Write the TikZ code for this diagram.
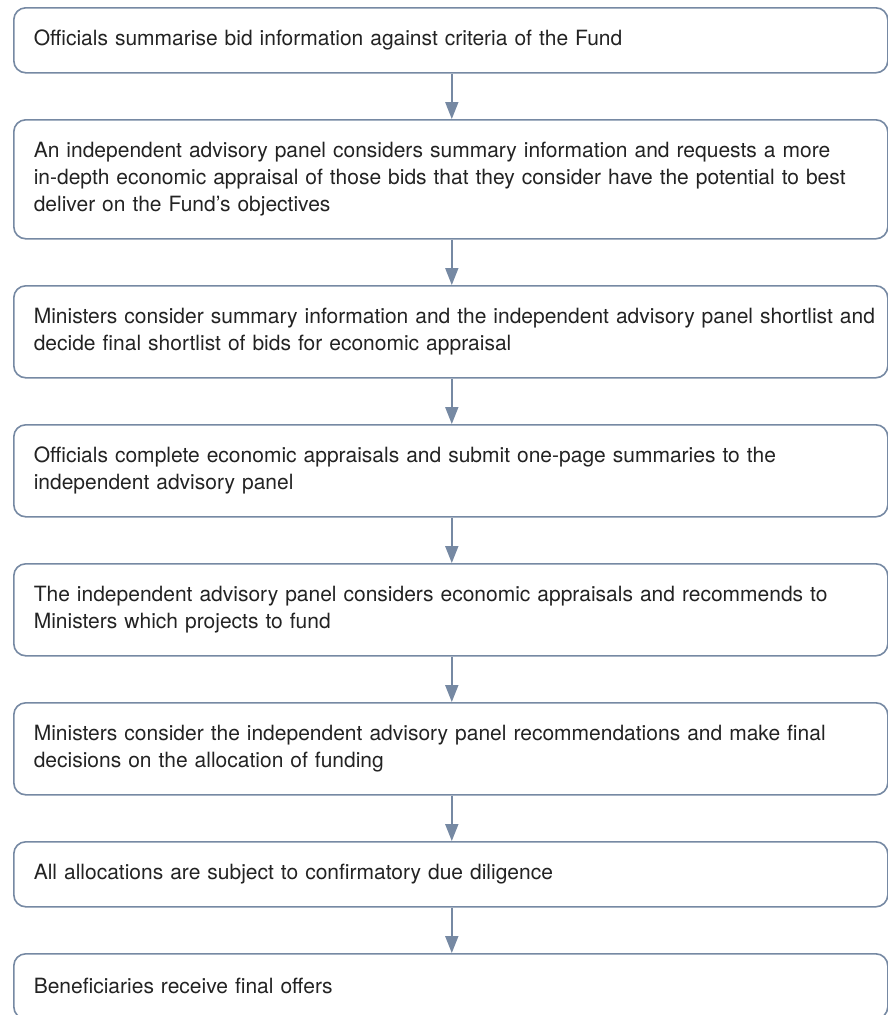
\documentclass[tikz,border=0pt]{standalone}
\usepackage{fontspec}
\setmainfont{TeX Gyre Heros}
\usetikzlibrary{arrows.meta}
\definecolor{edge}{RGB}{118,137,163}
\definecolor{txt}{RGB}{35,35,35}
\tikzset{
  stepbox/.style={draw=edge, line width=1.6pt, rounded corners=12pt, fill=white,
    anchor=north west, minimum width=874pt, text width=834pt, inner xsep=20pt,
    inner ysep=0pt, align=left, text=txt, font=\fontsize{21}{27}\selectfont},
  flow/.style={draw=edge, line width=1.8pt, -{Triangle[width=13pt,length=17pt]}}
}
\newcommand{\tl}[1]{\mbox{#1}}
\begin{document}
\begin{tikzpicture}[x=1pt,y=-1pt]
\useasboundingbox (0,0) rectangle (888,1015);
\node[stepbox, minimum height=65pt] (b1) at (13,7) {\tl{Officials summarise bid information against criteria of the Fund}};
\node[stepbox, minimum height=119pt] (b2) at (13,119) {\tl{An independent advisory panel considers summary information and requests a more}\\\tl{in-depth economic appraisal of those bids that they consider have the potential to best}\\\tl{deliver on the Fund’s objectives}};
\node[stepbox, minimum height=92pt] (b3) at (13,285) {\tl{Ministers consider summary information and the independent advisory panel shortlist and}\\\tl{decide final shortlist of bids for economic appraisal}};
\node[stepbox, minimum height=92pt] (b4) at (13,424) {\tl{Officials complete economic appraisals and submit one-page summaries to the}\\\tl{independent advisory panel}};
\node[stepbox, minimum height=92pt] (b5) at (13,563) {\tl{The independent advisory panel considers economic appraisals and recommends to}\\\tl{Ministers which projects to fund}};
\node[stepbox, minimum height=92pt] (b6) at (13,702) {\tl{Ministers consider the independent advisory panel recommendations and make final}\\\tl{decisions on the allocation of funding}};
\node[stepbox, minimum height=65pt] (b7) at (13,841) {\tl{All allocations are subject to confirmatory due diligence}};
\node[stepbox, minimum height=65pt] (b8) at (13,953) {\tl{Beneficiaries receive final offers}};
\foreach \a/\b in {b1/b2,b2/b3,b3/b4,b4/b5,b5/b6,b6/b7,b7/b8}
  \draw[flow] ([xshift=1pt]\a.south) -- ([xshift=1pt]\b.north);
\end{tikzpicture}
\end{document}
